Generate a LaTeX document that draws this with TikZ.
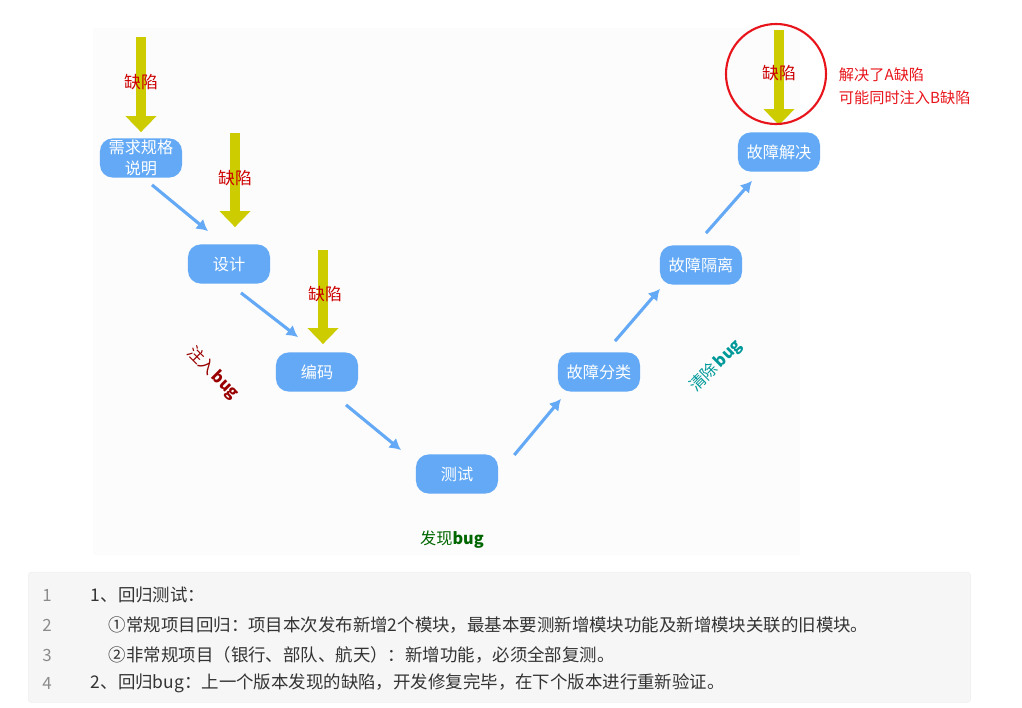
\documentclass[tikz,border=0pt]{standalone}
\usepackage{fontspec}
\usepackage{xcolor}
\usepackage{tikz}
\usetikzlibrary{arrows.meta,calc,positioning}
\setmainfont{Noto Sans CJK SC}
\definecolor{stageBlue}{HTML}{63A9F5}
\definecolor{flawYellow}{HTML}{CCCC00}
\definecolor{flawRed}{HTML}{CC0000}
\definecolor{noteRed}{HTML}{E8141B}
\definecolor{injectRed}{HTML}{990000}
\definecolor{clearTeal}{HTML}{009999}
\definecolor{findGreen}{HTML}{006600}
\definecolor{codeGray}{HTML}{F6F6F7}
\definecolor{codeText}{HTML}{333333}

\begin{document}
\begin{tikzpicture}[x=0.025cm,y=-0.025cm,
    stage/.style={fill=stageBlue,text=white,rounded corners=0.32cm,align=center,
      minimum width=2.05cm,minimum height=0.98cm,inner sep=1pt,
      font=\fontsize{11.5pt}{14.5pt}\selectfont},
    flow/.style={draw=stageBlue,line width=2.2pt,-{Latex[length=8pt,width=9pt]}},
    flaw/.style={draw=flawYellow,line width=0.23cm,
      -{Triangle[length=0.4cm,width=0.75cm]}},
    flawtext/.style={text=flawRed,font=\fontsize{12pt}{14pt}\selectfont},
    codeline/.style={anchor=west,text=codeText,font=\fontsize{12.4pt}{14pt}\selectfont},
    lineno/.style={text=black!45,font=\fontsize{12pt}{14pt}\selectfont}]
    \useasboundingbox (0,0) rectangle (1022,708);
    \fill[black!1.2] (93,28) rectangle (800,555);
    % stages of the V
    \node[stage] (req) at (141,158) {需求规格\\说明};
    \node[stage] (design) at (229,264) {设计};
    \node[stage] (code) at (317,372) {编码};
    \node[stage] (test) at (457,474) {测试};
    \node[stage] (classify) at (599,372) {故障分类};
    \node[stage] (isolate) at (701,265) {故障隔离};
    \node[stage] (solve) at (779,152) {故障解决};
    \draw[flow] ($(req.south)+(11,7)$) -- ($(design.north)+(-21,-13)$);
    \draw[flow] ($(design.south)+(12,9)$) -- ($(code.north)+(-19,-15)$);
    \draw[flow] ($(code.south)+(29,13)$) -- ($(test.north)+(-56,-4)$);
    \draw[flow] ($(test.east)+(16,-19)$) -- ($(classify.south)+(-38,7)$);
    \draw[flow] ($(classify.north)+(16,-11)$) -- ($(isolate.south)+(-41,4)$);
    \draw[flow] ($(isolate.north)+(5,-12)$) -- ($(solve.south)+(-27,9)$);
    % injected defects
    \coordinate (f1) at (141,37);
    \coordinate (f2) at (235,133);
    \coordinate (f3) at (323,250);
    \coordinate (f4) at (779,30);
    \draw[flaw] (f1) -- ($(req.north)+(0,-6)$);
    \draw[flaw] (f2) -- ($(design.north)+(6,-17)$);
    \draw[flaw] (f3) -- ($(code.north)+(6,-8)$);
    \draw[flaw] (f4) -- ($(solve.north)+(0,-7)$);
    \node[flawtext] (flaw1) at (141,82) {缺陷};
    \node[flawtext] (flaw2) at (235,178) {缺陷};
    \node[flawtext] (flaw3) at (325,294) {缺陷};
    \node[flawtext] (flaw4) at (779,73) {缺陷};
    \node[draw=noteRed,line width=1.5pt,circle,minimum size=2.5cm] (ring) at (776,74) {};
    \node[anchor=west,text=noteRed,align=left,font=\fontsize{10.8pt}{16.3pt}\selectfont]
      (note) at (834,86) {解决了A缺陷\\可能同时注入B缺陷};
    % phase labels
    \node[rotate=-45,text=injectRed,font=\fontsize{11.5pt}{14pt}\selectfont]
      (inject) at (213,373) {注入\,\textbf{bug}};
    \node[rotate=45,text=clearTeal,font=\fontsize{11.5pt}{14pt}\selectfont]
      (clear) at (716,366) {清除\,\textbf{bug}};
    \node[text=findGreen,font=\fontsize{11.5pt}{14pt}\selectfont]
      (find) at (452,540) {发现\textbf{bug}};
    % notes block
    \node[fill=codeGray,draw=black!6,rounded corners=2pt,minimum width=23.55cm,
      minimum height=3.25cm,anchor=north west] (block) at (28,572) {};
    \node[lineno] (n1) at (47,595) {1};
    \node[lineno] (n2) at (47,625) {2};
    \node[lineno] (n3) at (47,655) {3};
    \node[lineno] (n4) at (47,683) {4};
    \node[codeline] (l1) at (86,595) {1、回归测试：};
    \node[codeline] (l2) at (104,625) {①常规项目回归：项目本次发布新增2个模块，最基本要测新增模块功能及新增模块关联的旧模块。};
    \node[codeline] (l3) at (104,655) {②非常规项目（银行、部队、航天）：新增功能，必须全部复测。};
    \node[codeline] (l4) at (86,683) {2、回归bug：上一个版本发现的缺陷，开发修复完毕，在下个版本进行重新验证。};
  \end{tikzpicture}
\end{document}
